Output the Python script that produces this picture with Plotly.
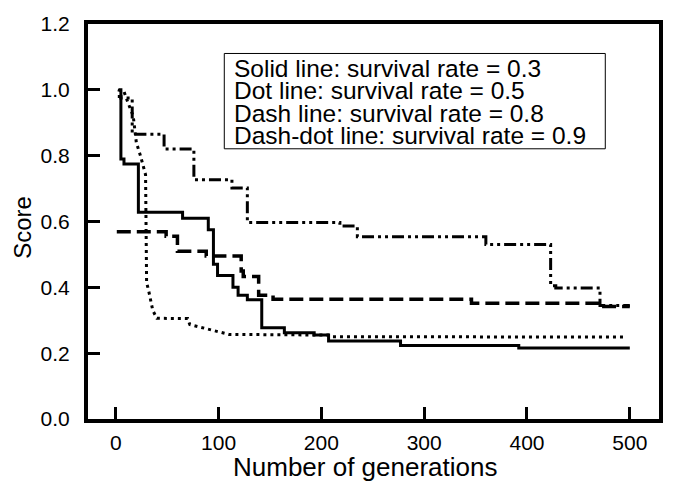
import plotly.graph_objects as go

# ---- data ----
solid_gen = [2, 5, 8, 22, 65, 90, 95, 99, 114, 119, 128, 142, 164, 193, 207, 277, 392, 500]
solid_score = [0.98, 0.79, 0.775, 0.628, 0.61, 0.575, 0.47, 0.436, 0.40, 0.376, 0.362, 0.277,
               0.262, 0.255, 0.237, 0.223, 0.216, 0.216]

dot_gen = [2, 8, 12, 17, 20, 24, 29, 30, 32, 36, 40, 70, 72, 85, 97, 110, 207, 210, 497]
dot_score = [1.0, 0.995, 0.96, 0.92, 0.84, 0.80, 0.742, 0.415, 0.39, 0.33, 0.306, 0.305,
             0.287, 0.277, 0.267, 0.257, 0.255, 0.25, 0.249]

dash_gen = [1, 49, 60, 88, 122, 124, 139, 153, 346, 470, 500]
dash_score = [0.569, 0.555, 0.51, 0.495, 0.45, 0.433, 0.376, 0.364, 0.352, 0.342, 0.342]

dd_gen = [3, 5, 16, 47, 76, 113, 128, 218, 235, 360, 423, 428, 471, 500]
dd_score = [1.0, 0.975, 0.865, 0.82, 0.727, 0.702, 0.597, 0.586, 0.554, 0.53, 0.405, 0.398,
            0.345, 0.345]

x_ticks = [0, 100, 200, 300, 400, 500]
y_ticks = [0.0, 0.2, 0.4, 0.6, 0.8, 1.0, 1.2]

legend_lines = [
    "Solid line: survival rate = 0.3",
    "Dot line: survival rate = 0.5",
    "Dash line: survival rate = 0.8",
    "Dash-dot line: survival rate = 0.9",
]

FONT = "Liberation Sans, Arial, sans-serif"

fig = go.Figure()
fig.add_trace(go.Scatter(x=solid_gen, y=solid_score, mode="lines", line_shape="hv",
                         line=dict(color="black", width=3), showlegend=False))
fig.add_trace(go.Scatter(x=dot_gen, y=dot_score, mode="lines",
                         line=dict(color="black", width=3, dash="3px,4px"), showlegend=False))
fig.add_trace(go.Scatter(x=dash_gen, y=dash_score, mode="lines", line_shape="hv",
                         line=dict(color="black", width=3.5, dash="14px,6px"), showlegend=False))
fig.add_trace(go.Scatter(x=dd_gen, y=dd_score, mode="lines", line_shape="hv",
                         line=dict(color="black", width=3, dash="12px,4px,3px,4px,3px,4px"),
                         showlegend=False))

ML, MR, MT, MB = 88, 13, 17, 70
W, H = 675, 489
pw, ph = W - ML - MR, H - MT - MB

def px_x(px):
    return (px - ML) / pw

def px_y(py):
    return (H - MB - py) / ph

fig.update_layout(
    width=W, height=H,
    margin=dict(l=ML, r=MR, t=MT, b=MB),
    paper_bgcolor="white", plot_bgcolor="white",
    font=dict(family=FONT, size=21, color="black"),
    xaxis=dict(range=[-27, 528.4], tickvals=x_ticks, ticks="inside", ticklen=12, tickwidth=3,
               tickcolor="black", showline=True, linewidth=4, linecolor="black", mirror=True,
               showgrid=False, zeroline=False, tickfont=dict(size=21), ticklabelstandoff=2),
    yaxis=dict(range=[0, 1.2], tickvals=y_ticks, tickformat=".1f", ticks="inside", ticklen=12,
               tickwidth=3, tickcolor="black", showline=True, linewidth=4, linecolor="black",
               mirror=True, showgrid=False, zeroline=False, tickfont=dict(size=21),
               ticklabelstandoff=10),
)

# axis titles
fig.add_annotation(text="Number of generations", xref="paper", yref="paper",
                   x=px_x(366), y=px_y(468), xanchor="center", yanchor="middle",
                   showarrow=False, font=dict(size=26, family=FONT))
fig.add_annotation(text="Score", xref="paper", yref="paper", textangle=-90,
                   x=px_x(22), y=px_y(224), xanchor="center", yanchor="middle",
                   showarrow=False, font=dict(size=24, family=FONT))

# legend box
fig.add_shape(type="rect", xref="paper", yref="paper",
              x0=px_x(225), x1=px_x(608), y0=px_y(144), y1=px_y(47),
              line=dict(color="black", width=1), fillcolor="white", layer="above")
centers = [62, 85, 108, 130.5]
for txt, c in zip(legend_lines, centers):
    fig.add_annotation(text=txt, xref="paper", yref="paper", x=px_x(233), y=px_y(c),
                       xanchor="left", yanchor="middle", showarrow=False,
                       font=dict(size=24.5, family=FONT))

fig.write_html("out.html")
